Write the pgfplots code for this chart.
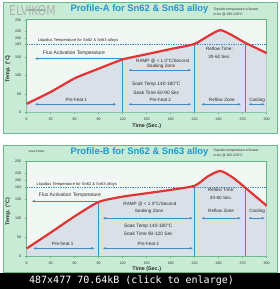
\documentclass[border=0pt]{standalone}
\usepackage{pgfplots}
\usepackage{pgfplotstable}
\pgfplotsset{compat=1.18}
\usepackage{fontspec}
\setmainfont{Liberation Sans}
\newfontfamily\monofont{DejaVu Sans Mono}
\newfontfamily\thinfont{DejaVu Sans}[FakeStretch=0.8]
\usetikzlibrary{arrows.meta}
\definecolor{panelgreen}{RGB}{200,235,214}
\definecolor{panelborder}{RGB}{105,185,140}
\definecolor{plotbg}{RGB}{241,247,243}
\definecolor{undergrey}{RGB}{218,224,231}
\definecolor{titleblue}{RGB}{35,150,205}
\definecolor{curvered}{RGB}{226,52,52}
\definecolor{lineblue}{RGB}{60,140,200}
\definecolor{axisgreen}{RGB}{95,180,130}
\definecolor{txt}{RGB}{45,45,45}

\pgfplotstableread{
x y
0 23
30 55
60 92
90 118
120 143
150 157
180 171
210 185
242 222
273 188
300 160
}\profA

\pgfplotstableread{
x y
0 20
30 62
60 105
90 143
120 157
150 166
180 175
210 186
226 210
242 225
258 207
273 181
300 133
}\profB

\pgfplotsset{profile/.style={
  scale only axis, width=240pt,
  xmin=0, xmax=300, ymin=0, ymax=250,
  anchor=south west, clip=false,
  axis background/.style={fill=plotbg},
  axis line style={draw=axisgreen, line width=0.7pt},
  xtick={0,30,...,300}, ytick={0,50,100,150,183,200,220,250},
  xtick pos=left, ytick pos=left,
  tick align=outside, major tick length=2pt,
  tick style={draw=axisgreen, line width=0.5pt},
  every tick label/.append style={font=\fontsize{3.6}{4}\selectfont, text=txt},
  /pgf/number format/assume math mode=true,
  xlabel={\bfseries Time (Sec.)}, ylabel={\bfseries Temp. (\textdegree C)},
  label style={font=\fontsize{5.4}{6}\selectfont, text=txt},
  xlabel style={at={(axis description cs:0.5,0)}, anchor=center, yshift=-13.4pt},
  ylabel style={at={(axis description cs:0,0.47)}, anchor=center, yshift=18.7pt},
}}
\tikzset{
  ann/.style={font=\fontsize{4.6}{5.5}\selectfont, text=txt, inner sep=0pt},
  arr/.style={draw=lineblue, line width=0.8pt, -{Latex[length=3.2pt,width=2.6pt]}},
  darr/.style={draw=lineblue, line width=0.8pt, {Latex[length=3.2pt,width=2.6pt]}-{Latex[length=3.2pt,width=2.6pt]}},
}

\begin{document}
\begin{tikzpicture}[x=1pt,y=1pt]
\fill[white] (0,0) rectangle (280,289);
\fill[black] (0,0) rectangle (280,16);
\node[text=white, font=\monofont\fontsize{10}{12}\selectfont, inner sep=0pt] at (131.5,8.3) {487x477 70.64kB (click to enlarge)};
\filldraw[fill=panelgreen, draw=panelborder, line width=0.9pt] (3,155.7) rectangle (277,287);
\filldraw[fill=panelgreen, draw=panelborder, line width=0.9pt] (3,16.6) rectangle (277,144);

% titles and notes
\node[font=\fontsize{9.4}{10}\selectfont\bfseries, text=titleblue] at (139.5,279.6) {Profile-A for Sn62 \& Sn63 alloy};
\node[font=\fontsize{9.4}{10}\selectfont\bfseries, text=titleblue] at (139.5,137.2) {Profile-B for Sn62 \& Sn63 alloy};
\node[anchor=north west, inner sep=0pt, align=left, font=\fontsize{3.4}{4.7}\selectfont, text=txt] at (213.5,281) {Topside temperature of board\\to be @ 205-220\textdegree C};
\node[anchor=north west, inner sep=0pt, align=left, font=\fontsize{3.4}{4.7}\selectfont, text=txt] at (213.5,140) {Topside temperature of board\\to be @ 205-220\textdegree C};
\node[font=\fontsize{2.9}{3}\selectfont, text=txt] at (36.5,278.5) {Reflow Profile};
\node[font=\fontsize{2.9}{3}\selectfont, text=txt] at (36.5,138) {Soak Profile};
\node[font=\thinfont\fontsize{13.5}{14}\selectfont, text=gray!65, inner sep=0pt, opacity=0.9] at (32.5,278.5) {ELVIKOM};

% ---------- Profile A ----------
\begin{axis}[profile, at={(26.7pt,176.7pt)}, height=92.5pt]
\addplot[fill=undergrey, draw=none, smooth, tension=0.3] table {\profA} \closedcycle;
\addplot[lineblue, line width=0.5pt, dash pattern=on 1.4pt off 1pt] coordinates {(0,183) (300,183)};
\addplot[lineblue, line width=0.8pt] coordinates {(120,0) (120,143)};
\addplot[lineblue, line width=0.8pt] coordinates {(210,0) (210,185)};
\addplot[lineblue, line width=0.8pt] coordinates {(273,0) (273,188)};
\node[ann, font=\fontsize{4}{5}\selectfont] at (axis cs:64,195) {Liquidus Temperature for Sn62 \& Sn63 alloys};
\draw[arr] (axis cs:120,145) -- (axis cs:10,145);
\node[ann, font=\fontsize{5}{6}\selectfont] at (axis cs:59,159) {Flux Activation Temperature};
\node[ann] at (axis cs:170,139) {RAMP @ < 1.0\textdegree C/Second};
\node[ann] at (axis cs:168,125) {Soaking Zone};
\draw[darr] (axis cs:127,114) -- (axis cs:206,114);
\node[ann, font=\fontsize{4.8}{6}\selectfont] at (axis cs:162,77) {Soak Temp 140-180\textdegree C};
\node[ann, font=\fontsize{4.8}{6}\selectfont] at (axis cs:162,54) {Soak Time 60-90 Sec};
\node[ann] at (axis cs:241,171) {Reflow Time:};
\node[ann] at (axis cs:241,151) {30-60 Sec.};
\node[ann] at (axis cs:62,33) {Pre-heat 1};
\draw[darr] (axis cs:10,21.6) -- (axis cs:112,21.6);
\node[ann] at (axis cs:167,33) {Pre-heat 2};
\draw[darr] (axis cs:127,21.6) -- (axis cs:206,21.6);
\node[ann] at (axis cs:244,33) {Reflow Zone};
\draw[darr] (axis cs:218,21.6) -- (axis cs:268,21.6);
\node[ann] at (axis cs:288,33) {Cooling};
\draw[darr] (axis cs:277,21.6) -- (axis cs:298,21.6);
\addplot[curvered, line width=2.2pt, smooth, tension=0.3] table {\profA};
\end{axis}

% ---------- Profile B ----------
\begin{axis}[profile, at={(26.7pt,33pt)}, height=94.5pt]
\addplot[fill=undergrey, draw=none, smooth, tension=0.4] table {\profB} \closedcycle;
\addplot[lineblue, line width=0.5pt, dash pattern=on 1.4pt off 1pt] coordinates {(0,183) (300,183)};
\addplot[lineblue, line width=0.8pt] coordinates {(90,0) (90,143)};
\addplot[lineblue, line width=0.8pt] coordinates {(210,0) (210,186)};
\addplot[lineblue, line width=0.8pt] coordinates {(273,0) (273,181)};
\node[ann, font=\fontsize{4}{5}\selectfont] at (axis cs:62.5,190) {Liquidus Temperature for Sn62 \& Sn63 alloys};
\draw[arr] (axis cs:90,145) -- (axis cs:6,145);
\node[ann, font=\fontsize{5}{6}\selectfont] at (axis cs:54,162) {Flux Activation Temperature};
\node[ann] at (axis cs:154,136) {RAMP @ < 1.0\textdegree C/Second};
\node[ann] at (axis cs:153,119) {Soaking Zone};
\draw[darr] (axis cs:95,100) -- (axis cs:208,100);
\node[ann, font=\fontsize{4.8}{6}\selectfont] at (axis cs:152,80) {Soak Temp 140-180\textdegree C};
\node[ann, font=\fontsize{4.8}{6}\selectfont] at (axis cs:152,60) {Soak Time 90-120 Sec};
\node[ann] at (axis cs:243,176) {Reflow Time:};
\node[ann] at (axis cs:243,154) {30-60 Sec.};
\node[ann] at (axis cs:45,31.6) {Pre-heat 1};
\draw[darr] (axis cs:8,20.3) -- (axis cs:85,20.3);
\node[ann] at (axis cs:152,31.6) {Pre-heat 2};
\draw[darr] (axis cs:95,20.3) -- (axis cs:208,20.3);
\node[ann] at (axis cs:243,119) {Reflow Zone};
\draw[darr] (axis cs:218,100) -- (axis cs:268,100);
\node[ann] at (axis cs:288,119) {Cooling};
\draw[darr] (axis cs:277,100) -- (axis cs:298,100);
\addplot[curvered, line width=2.2pt, smooth, tension=0.4] table {\profB};
\end{axis}
\end{tikzpicture}
\end{document}
